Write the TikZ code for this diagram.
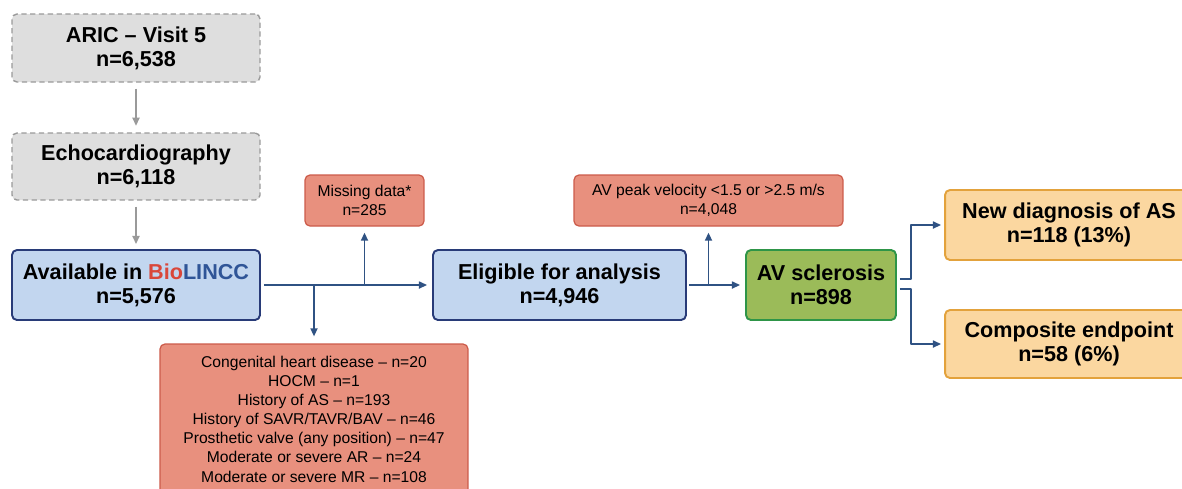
\documentclass[tikz,border=0pt]{standalone}
\usepackage{fontspec}
\setmainfont{Liberation Sans}
\usetikzlibrary{arrows.meta}
\definecolor{boxgrey}{HTML}{DEDEDE}
\definecolor{linegrey}{HTML}{9A9A9A}
\definecolor{boxblue}{HTML}{C2D6EF}
\definecolor{lineblue}{HTML}{283B78}
\definecolor{arrowblue}{HTML}{2F5283}
\definecolor{boxred}{HTML}{E8907E}
\definecolor{linered}{HTML}{CC5B4A}
\definecolor{boxgreen}{HTML}{9BBB59}
\definecolor{linegreen}{HTML}{2E9548}
\definecolor{boxorange}{HTML}{FBD7A0}
\definecolor{lineorange}{HTML}{E3A23C}
\definecolor{biored}{HTML}{D9473A}
\definecolor{bioblue}{HTML}{2F5597}
\begin{document}
\begin{tikzpicture}[x=0.02cm,y=-0.02cm,line join=round,>={Triangle[length=4.6pt,width=4pt]}]
	\tikzset{box/.style={rounded corners=2.8pt,line width=1.1pt,inner sep=0pt,align=center},
		big/.style={font=\fontsize{12.3}{13.8}\selectfont\bfseries},
		small/.style={font=\fontsize{8.9}{10.6}\selectfont},
		greybox/.style={box,big,fill=boxgrey,draw=linegrey,line width=0.8pt,dash pattern=on 3pt off 2pt},
		bluebox/.style={box,big,fill=boxblue,draw=lineblue},
		redbox/.style={box,small,fill=boxred,draw=linered,line width=0.7pt},
		greenbox/.style={box,big,fill=boxgreen,draw=linegreen},
		orangebox/.style={box,big,fill=boxorange,draw=lineorange},
		greyline/.style={->,linegrey,line width=1.1pt},
		blueline/.style={->,arrowblue,line width=0.9pt}}
	\useasboundingbox (0,0) rectangle (1182,488);
	\node[greybox,minimum width=4.96cm,minimum height=1.36cm] (aric) at (136,48) {ARIC -- Visit 5\\n=6,538};
	\node[greybox,minimum width=4.96cm,minimum height=1.34cm] (echo) at (136,166.5) {Echocardiography\\n=6,118};
	\node[bluebox,minimum width=4.96cm,minimum height=1.40cm] (avail) at (136,285) {Available in {\color{biored}Bio}{\color{bioblue}LINCC}\\n=5,576};
	\node[bluebox,minimum width=5.06cm,minimum height=1.40cm] (elig) at (559.5,285) {Eligible for analysis\\n=4,946};
	\node[greenbox,minimum width=3.00cm,minimum height=1.40cm] (avs) at (821,285) {AV sclerosis\\n=898};
	\node[orangebox,minimum width=4.96cm,minimum height=1.40cm] (newdx) at (1069,225) {New diagnosis of AS\\n=118 (13\%)};
	\node[orangebox,minimum width=4.96cm,minimum height=1.36cm] (comp) at (1069,344) {Composite endpoint\\n=58 (6\%)};
	\node[redbox,minimum width=2.38cm,minimum height=1.02cm] (miss) at (364.5,200.5) {Missing data*\\n=285};
	\node[redbox,minimum width=5.38cm,minimum height=1.02cm] (avpk) at (708.5,200.5) {AV peak velocity <1.5 or >2.5 m/s\\n=4,048};
	\node[redbox,font=\fontsize{8.9}{10.9}\selectfont,minimum width=6.16cm,minimum height=3.00cm] (excl) at (314,419)
		{Congenital heart disease -- n=20\\HOCM -- n=1\\History of AS -- n=193\\History of SAVR/TAVR/BAV -- n=46\\
		Prosthetic valve (any position) -- n=47\\Moderate or severe AR -- n=24\\Moderate or severe MR -- n=108};
	\draw[greyline,shorten <=1.2mm,shorten >=1.3mm] (aric) -- (echo);
	\draw[greyline,shorten <=1.2mm,shorten >=1mm] (echo) -- (avail);
	\draw[blueline,shorten <=0.6mm,shorten >=1mm] (avail) -- (elig);
	\draw[blueline,shorten >=1.2mm] (avail.east -| miss.south) -- (miss.south);
	\draw[blueline,shorten >=1.4mm] (avail.east -| excl.north) -- (excl.north);
	\draw[blueline,shorten <=0.4mm,shorten >=1mm] (elig) -- (avs);
	\draw[blueline,shorten >=1.2mm] (elig.east -| avpk.south) -- (avpk.south);
	\draw[blueline,shorten >=0.6mm] ([xshift=0.6mm,yshift=1.2mm]avs.east) -- ++(11,0) |- (newdx.west);
	\draw[blueline,shorten >=0.6mm] ([xshift=0.6mm,yshift=-0.8mm]avs.east) -- ++(11,0) |- (comp.west);
\end{tikzpicture}
\end{document}
